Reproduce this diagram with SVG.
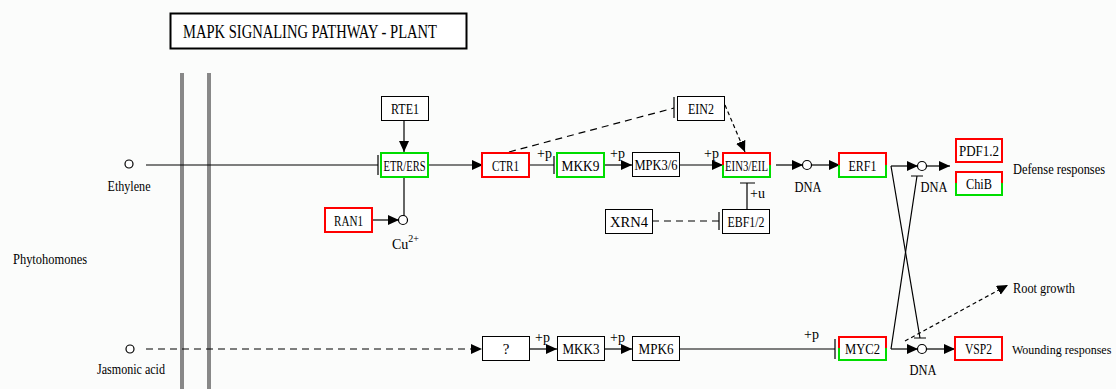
<svg xmlns="http://www.w3.org/2000/svg" width="1116" height="389" viewBox="0 0 1116 389">
<style>
text{font-family:"Liberation Serif","Times New Roman",serif;fill:#000}
.lbl{font-size:15px;text-anchor:middle}
.clbl{font-size:14px;text-anchor:middle}
.txt{font-size:14px}
.pp{font-size:14px}
.box{fill:#fff;stroke:#000;stroke-width:1}
.red{fill:#fff;stroke:#f00;stroke-width:2}
.half-r{fill:none;stroke:#f00;stroke-width:2}
.half-g{fill:none;stroke:#0d0;stroke-width:2}
.grn{fill:#fff;stroke:#0d0;stroke-width:2}
.cpd{fill:#fff;stroke:#000;stroke-width:1.2}
.ln{fill:none;stroke:#000;stroke-width:1.2}
.dash{fill:none;stroke:#000;stroke-width:1.2;stroke-dasharray:7,5}
.arr{marker-end:url(#ah)}
.bar{stroke:#888;stroke-width:4}
</style>
<defs>
<marker id="ah" markerUnits="userSpaceOnUse" markerWidth="12" markerHeight="12" refX="11" refY="5" orient="auto"><path d="M0,0 L11,5 L0,10 z" fill="#000"/></marker>
</defs>
<rect x="0" y="0" width="1116" height="389" fill="#fbfcfb"/>
<g id="title">
<rect x="170.5" y="13.5" width="296" height="35" fill="#fff" stroke="#000" stroke-width="2"/>
<text x="183" y="38" font-size="18" textLength="254" lengthAdjust="spacingAndGlyphs">MAPK  SIGNALING  PATHWAY  -  PLANT</text>
</g>
<g id="membrane">
<line class="bar" x1="182" y1="73" x2="182" y2="389"/>
<line class="bar" x1="209" y1="73" x2="209" y2="389"/>
</g>
<g id="connectors">
<path class="ln" d="M146,165 H378 M378,155 V175"/>
<path class="ln arr" d="M404,120 V152"/>
<path class="ln arr" d="M428,165 H483"/>
<path class="ln" d="M404,177 V216"/>
<path class="ln arr" d="M372,220 H399"/>
<path class="ln" d="M529,165 H554 M554,156 V174"/>
<path class="ln arr" d="M604,165 H632"/>
<path class="ln arr" d="M680,165 H723"/>
<path class="dash" d="M509,152 L674,108"/>
<path class="ln" d="M674,97 V118"/>
<path class="ln arr" d="M725,105 L745,152" stroke-dasharray="4,3"/>
<path class="ln" d="M747,209 V183 M740,183 H755"/>
<path class="dash" d="M652,221 H719"/>
<path class="ln" d="M719,212 V230"/>
<path class="ln arr" d="M776,165 H803"/>
<path class="ln arr" d="M811,165 H840"/>
<path class="ln arr" d="M891,166 H918"/>
<path class="ln arr" d="M926,166 H950"/>
<path class="ln" d="M891,166 L920,338 M914,338 H926"/>
<path class="ln" d="M891,349 L917,176 M911,176 H923"/>
<path class="dash arr" d="M146,349 H482"/>
<path class="ln arr" d="M529,349 H557"/>
<path class="ln arr" d="M604,349 H632"/>
<path class="ln" d="M679,349 H835 M835,339 V359"/>
<path class="ln arr" d="M891,349 H918"/>
<path class="ln arr" d="M926,349 H955"/>
<path class="ln arr" d="M905,341 L1008,285" stroke-dasharray="4,3"/>
<text class="pp" x="537" y="158">+p</text>
<text class="pp" x="610" y="158">+p</text>
<text class="pp" x="704" y="158">+p</text>
<text class="pp" x="750" y="198">+u</text>
<text class="pp" x="535" y="342">+p</text>
<text class="pp" x="610" y="342">+p</text>
<text class="pp" x="804" y="339">+p</text>
</g>
<g id="ethylene"><circle class="cpd" cx="129" cy="164" r="4"/><text class="clbl" x="129" y="191" textLength="43" lengthAdjust="spacingAndGlyphs">Ethylene</text></g>
<g id="jasmonic"><circle class="cpd" cx="130" cy="349" r="4"/><text class="clbl" x="131" y="374" textLength="68" lengthAdjust="spacingAndGlyphs">Jasmonic acid</text></g>
<g id="phyto"><text class="txt" x="13" y="264" textLength="74" lengthAdjust="spacingAndGlyphs">Phytohomones</text></g>
<g id="cu"><circle class="cpd" cx="403" cy="220" r="4.5"/><text class="txt" x="392" y="249">Cu<tspan font-size="10" dy="-7">2+</tspan></text></g>
<g id="dna1"><circle class="cpd" cx="807" cy="165" r="4.5"/><text class="clbl" x="808" y="192" textLength="27" lengthAdjust="spacingAndGlyphs">DNA</text></g>
<g id="dna2"><circle class="cpd" cx="922" cy="166" r="4.5"/><text class="clbl" x="934" y="192" textLength="27" lengthAdjust="spacingAndGlyphs">DNA</text></g>
<g id="dna3"><circle class="cpd" cx="922" cy="349" r="4.5"/><text class="clbl" x="923" y="375" textLength="27" lengthAdjust="spacingAndGlyphs">DNA</text></g>
<g id="RTE1"><rect class="box" x="381.5" y="96.5" width="47" height="24"/><text class="lbl" x="405" y="114" textLength="28" lengthAdjust="spacingAndGlyphs">RTE1</text></g>
<g id="ETR"><rect class="grn" x="381" y="153" width="47" height="24"/><text class="lbl" x="404.5" y="171" textLength="42" lengthAdjust="spacingAndGlyphs">ETR/ERS</text></g>
<g id="RAN1"><rect class="red" x="325" y="208" width="47" height="24"/><text class="lbl" x="348.5" y="226" textLength="29" lengthAdjust="spacingAndGlyphs">RAN1</text></g>
<g id="CTR1"><rect class="red" x="482" y="153" width="47" height="24"/><text class="lbl" x="505.5" y="171" textLength="27" lengthAdjust="spacingAndGlyphs">CTR1</text></g>
<g id="MKK9"><rect class="grn" x="557" y="153" width="47" height="24"/><text class="lbl" x="580.5" y="171" textLength="38" lengthAdjust="spacingAndGlyphs">MKK9</text></g>
<g id="MPK36"><rect class="box" x="632.5" y="152.5" width="47" height="24"/><text class="lbl" x="656" y="170" textLength="43" lengthAdjust="spacingAndGlyphs">MPK3/6</text></g>
<g id="EIN2"><rect class="box" x="677.5" y="96.5" width="47" height="24"/><text class="lbl" x="701" y="114" textLength="26" lengthAdjust="spacingAndGlyphs">EIN2</text></g>
<g id="EIN3"><rect x="723" y="153" width="47" height="24" fill="#fff"/><path class="half-r" d="M723,165 V153 H770 V165"/><path class="half-g" d="M723,165 V177 H770 V165"/><text class="lbl" x="746.5" y="171" textLength="43" lengthAdjust="spacingAndGlyphs">EIN3/EIL</text></g>
<g id="EBF"><rect class="box" x="722.5" y="209.5" width="47" height="24"/><text class="lbl" x="746" y="227" textLength="37" lengthAdjust="spacingAndGlyphs">EBF1/2</text></g>
<g id="XRN4"><rect class="box" x="605.5" y="209.5" width="47" height="24"/><text class="lbl" x="629" y="227" textLength="38" lengthAdjust="spacingAndGlyphs">XRN4</text></g>
<g id="ERF1"><rect x="839" y="153" width="47" height="24" fill="#fff"/><path class="half-r" d="M839,165 V153 H886 V165"/><path class="half-g" d="M839,165 V177 H886 V165"/><text class="lbl" x="862.5" y="171" textLength="28" lengthAdjust="spacingAndGlyphs">ERF1</text></g>
<g id="PDF12"><rect class="red" x="956" y="139" width="46" height="23"/><text class="lbl" x="979" y="156" textLength="40" lengthAdjust="spacingAndGlyphs">PDF1.2</text></g>
<g id="ChiB"><rect x="956" y="172" width="46" height="23" fill="#fff"/><path class="half-r" d="M956,183 V172 H1002 V183"/><path class="half-g" d="M956,183 V195 H1002 V183"/><text class="lbl" x="979" y="189" textLength="26" lengthAdjust="spacingAndGlyphs">ChiB</text></g>
<g id="defense"><text class="txt" x="1013" y="174" textLength="92" lengthAdjust="spacingAndGlyphs">Defense responses</text></g>
<g id="Q"><rect class="box" x="482.5" y="336.5" width="47" height="24"/><text class="lbl" x="506" y="354">?</text></g>
<g id="MKK3"><rect class="box" x="557.5" y="336.5" width="47" height="24"/><text class="lbl" x="581" y="354" textLength="37" lengthAdjust="spacingAndGlyphs">MKK3</text></g>
<g id="MPK6"><rect class="box" x="632.5" y="336.5" width="47" height="24"/><text class="lbl" x="656" y="354" textLength="35" lengthAdjust="spacingAndGlyphs">MPK6</text></g>
<g id="MYC2"><rect x="839" y="337" width="47" height="23" fill="#fff"/><path class="half-r" d="M839,348 V337 H886 V348"/><path class="half-g" d="M839,348 V360 H886 V348"/><text class="lbl" x="862.5" y="354" textLength="35" lengthAdjust="spacingAndGlyphs">MYC2</text></g>
<g id="VSP2"><rect class="red" x="955" y="337" width="47" height="23"/><text class="lbl" x="978.5" y="354" textLength="27" lengthAdjust="spacingAndGlyphs">VSP2</text></g>
<g id="root"><text class="txt" x="1013" y="293" textLength="62" lengthAdjust="spacingAndGlyphs">Root growth</text></g>
<g id="wound"><text x="1012" y="354" font-size="12">Wounding responses</text></g>
</svg>
